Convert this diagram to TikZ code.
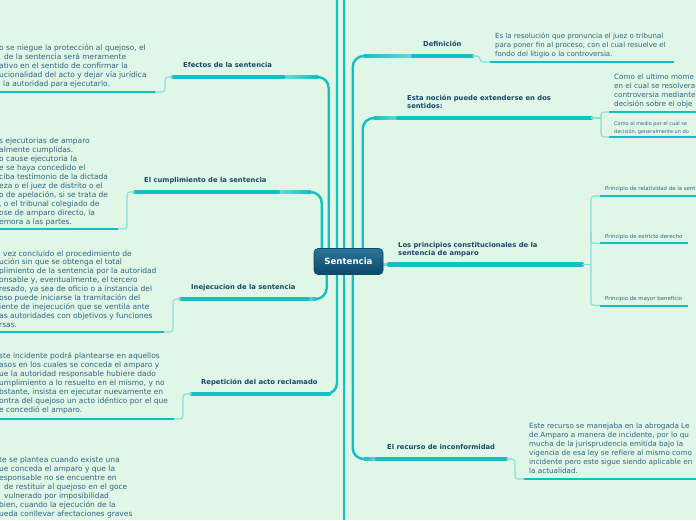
\documentclass[tikz,border=0pt]{standalone}
\usepackage{fontspec}
\setmainfont{DejaVu Sans}
\usetikzlibrary{backgrounds,calc}
\definecolor{bgc}{HTML}{E0F6E7}
\definecolor{cyanA}{HTML}{12BFC4}
\definecolor{cyanL}{HTML}{86DED9}
\definecolor{titlec}{HTML}{17496A}
\definecolor{bodyc}{HTML}{2F6582}
\definecolor{roottop}{HTML}{2C769C}
\definecolor{rootbot}{HTML}{0D4767}
\colorlet{fadeC}{cyanA!55!bgc}
\begin{document}
\begin{tikzpicture}[x=1pt,y=-1pt,
 conn/.style={draw=cyanA,line width=2.4pt,rounded corners=11pt},
 subconn/.style={draw=cyanL,line width=1.1pt,rounded corners=3pt},
 bar/.style={draw=cyanA,line width=4.4pt,line cap=round},
 uline/.style={draw=cyanA,line width=2pt},
 topic/.style={font=\bfseries\fontsize{6.8}{8.2}\selectfont,text=titlec,inner sep=0pt,anchor=base west,align=left},
 body/.style={font=\fontsize{7.5}{9.1}\selectfont,text=bodyc,inner sep=0pt,anchor=base west,align=left},
 rootbox/.style={rounded corners=4pt,top color=roottop,bottom color=rootbot,draw=rootbot,line width=0.6pt,text=white,font=\bfseries\fontsize{8.6}{10}\selectfont,minimum width=69pt,minimum height=26pt,inner sep=0pt}
]
\useasboundingbox (0,0) rectangle (696,520);
\begin{pgfonlayer}{background}
\fill[bgc] (0,0) rectangle (696,520);
\end{pgfonlayer}

% root
\node[rootbox] (root) at (348.5,261.5) {Sentencia};

% topic titles (base = baseline of last line)
\node[topic] (ef) at (183,67.5) {Efectos de la sentencia};
\node[topic] (cu) at (144,182.7) {El cumplimiento de la sentencia};
\node[topic] (in) at (191,289.7) {Inejecucion de la sentencia};
\node[topic] (re) at (201,384.7) {Repetición del acto reclamado};
\node[topic] (de) at (423,46.7) {Definición};
\node[topic] (es) at (407,108.7) {Esta noción puede extenderse en dos\\sentidos:};
\node[topic] (lp) at (398,255.7) {Los principios constitucionales de la\\sentencia de amparo};
\node[topic] (rc) at (387,449.5) {El recurso de inconformidad};

% bar end points
\coordinate (efL) at (173,77); \coordinate (efR) at (283,77);
\coordinate (cuL) at (135,192); \coordinate (cuR) at (278,192);
\coordinate (inL) at (181,299); \coordinate (inR) at (308,299);
\coordinate (reL) at (192,394); \coordinate (reR) at (329,394);
\coordinate (deL) at (413,56); \coordinate (deR) at (472,56);
\coordinate (esL) at (398,118); \coordinate (esR) at (591,118);
\coordinate (lpL) at (389,264.5); \coordinate (lpR) at (582,264.5);
\coordinate (rcL) at (377,459); \coordinate (rcR) at (506,459);

% body texts (base = baseline of last line)
\node[body,font=\fontsize{7.5}{9.2}\selectfont] (efT) at (-1,86.8) {o se niegue la protección al quejoso, el\\\hspace*{5pt}de la sentencia será meramente\\ativo en el sentido de confirmar la\\ucionalidad del acto y dejar vía jurídica\\\hspace*{4pt}la autoridad para ejecutarlo.};
\node[body,font=\fontsize{7.5}{8.96}\selectfont] (cuT) at (-1,224.3) {s ejecutorias de amparo\\almente cumplidas.\\o cause ejecutoria la\\e se haya concedido el\\ciba testimonio de la dictada\\eza o el juez de distrito o el\\o de apelación, si se trata de\\, o el tribunal colegiado de\\ose de amparo directo, la\\emora a las partes.};
\node[body,font=\fontsize{7.5}{8.9}\selectfont] (inT) at (-1,327.2) {\hspace*{4pt}vez concluido el procedimiento de\\ución sin que se obtenga el total\\plimiento de la sentencia por la autoridad\\onsable y, eventualmente, el tercero\\resado, ya sea de oficio o a instancia del\\oso puede iniciarse la tramitación del\\iente de inejecución que se ventila ante\\as autoridades con objetivos y funciones\\rsas.};
\node[body,font=\fontsize{7.5}{9}\selectfont] (reT) at (-1,412.7) {ste incidente podrá plantearse en aquellos\\asos en los cuales se conceda el amparo y\\ue la autoridad responsable hubiere dado\\umplimiento a lo resuelto en el mismo, y no\\bstante, insista en ejecutar nuevamente en\\ontra del quejoso un acto idéntico por el que\\e concedió el amparo.};
\node[body,font=\fontsize{7.5}{8.9}\selectfont] (boT) at (-1,516.1) {te se plantea cuando existe una\\ue conceda el amparo y que la\\esponsable no se encuentre en\\\hspace*{5pt}de restituir al quejoso en el goce\\\hspace*{5pt}vulnerado por imposibilidad\\bien, cuando la ejecución de la\\ueda conllevar afectaciones graves};
\node[body,font=\fontsize{7}{8.8}\selectfont] (deT) at (495,56.3) {Es la resolución que pronuncia el juez o tribunal\\para poner fin al proceso, con el cual resuelve el\\fondo del litigio o la controversia.};
\node[body,font=\fontsize{7.2}{9}\selectfont] (c1T) at (614,106.3) {Como el ultimo mome\\en el cual se resolvera\\controversia mediante\\decisión sobre el obje};
\node[body,font=\fontsize{5}{8.3}\selectfont] (c2T) at (614,133.3) {Como el medio por el cual se\\decisión, generalmente un do};
\node[body,font=\fontsize{5.4}{7}\selectfont] (p1T) at (605,190.7) {Principio de relatividad de la sent};
\node[body,font=\fontsize{5.4}{7}\selectfont] (p2T) at (605,238.4) {Principio de estricto derecho};
\node[body,font=\fontsize{5.4}{7}\selectfont] (p3T) at (605,300.7) {Principio de mayor beneficio};
\node[body,font=\fontsize{7.2}{9}\selectfont] (rcT) at (529,473) {Este recurso se manejaba en la abrogada Le\\de Amparo a manera de incidente, por lo qu\\mucha de la jurisprudencia emitida bajo la\\vigencia de esa ley se refiere al mismo como\\incidente pero este sigue siendo aplicable en\\la actualidad.};

% underline start/end points
\coordinate (efU) at (155,92); \coordinate (efU2) at (0,92);
\coordinate (cuU) at (118,229); \coordinate (cuU2) at (0,229);
\coordinate (inU) at (164,332); \coordinate (inU2) at (0,332);
\coordinate (reU) at (174,419); \coordinate (reU2) at (0,419);
\coordinate (deU) at (490,62); \coordinate (deU2) at (674,62);
\coordinate (c1U) at (609,112); \coordinate (c1U2) at (696,112);
\coordinate (c2U) at (609,137); \coordinate (c2U2) at (696,137);
\coordinate (p1U) at (600,196); \coordinate (p1U2) at (696,196);
\coordinate (p2U) at (600,243.3); \coordinate (p2U2) at (688,243.3);
\coordinate (p3U) at (600,305.5); \coordinate (p3U2) at (688,305.5);
\coordinate (rcU) at (524,479); \coordinate (rcU2) at (696,479);
\coordinate (topA) at (337,0); \coordinate (topB) at (344,0); \coordinate (botB) at (344,520);

\begin{pgfonlayer}{background}
% long verticals
\draw[conn] (topB) -- (botB);
\draw[conn] (reR) -| (topA);
% main connectors
\draw[conn] (efR) -| ($(root.north west)+(15,0)$);
\draw[conn] (cuR) -| ($(root.north west)+(8,0)$);
\draw[conn] (inR) -| ($(root.south west)+(13,0)$);
\draw[conn] (deL) -| ($(root.north west)+(39,0)$);
\draw[conn] (esL) -| ($(root.north west)+(49,0)$);
\draw[conn] (rcL) -| ($(root.south west)+(39,0)$);
\draw[conn,draw=fadeC] (root.east |- lpL) -- (lpL);
% lighter fade of the connectors next to the topic bars
\shade[left color=fadeC,right color=cyanA] ($(efR)+(0,-1.2)$) rectangle ($(efR)+(35,1.2)$);
\shade[left color=fadeC,right color=cyanA] ($(cuR)+(0,-1.2)$) rectangle ($(cuR)+(33,1.2)$);
\shade[left color=fadeC,right color=cyanA] ($(inR)+(0,-1.2)$) rectangle ($(inR)+(8,1.2)$);
\shade[left color=cyanA,right color=fadeC] ($(deL)+(-49,-1.2)$) rectangle ($(deL)+(0,1.2)$);
\shade[left color=cyanA,right color=fadeC] ($(esL)+(-24,-1.2)$) rectangle ($(esL)+(0,1.2)$);
\shade[left color=cyanA,right color=fadeC] ($(rcL)+(-13,-1.2)$) rectangle ($(rcL)+(0,1.2)$);
% bars
\foreach \a/\b in {efL/efR,cuL/cuR,inL/inR,reL/reR,deL/deR,esL/esR,lpL/lpR,rcL/rcR}
  \draw[bar] (\a) -- (\b);
% underlines
\foreach \a/\b in {efU/efU2,cuU/cuU2,inU/inU2,reU/reU2,deU/deU2,c1U/c1U2,c2U/c2U2,p1U/p1U2,p2U/p2U2,p3U/p3U2,rcU/rcU2}
  \draw[uline] (\a) -- (\b);
% sub connectors
\draw[subconn] (efL) -- (165,77) -- (165,92) -- (efU);
\draw[subconn] (cuL) -- (127,192) -- (127,229) -- (cuU);
\draw[subconn] (inL) -- (173,299) -- (173,332) -- (inU);
\draw[subconn] (reL) -- (183,394) -- (183,419) -- (reU);
\draw[subconn] (deR) -- (480,56) -- (480,62) -- (deU);
\draw[subconn] (esR) -- (601,118);
\draw[subconn] (c1U) -- (601,112) -- (601,137) -- (c2U);
\draw[subconn] (lpR) -- (591,264.5);
\draw[subconn] (p1U) -- (591,196) -- (591,305.5) -- (p3U);
\draw[subconn] (591,232) -- (591,243.3) -- (p2U);
\draw[subconn] (rcR) -- (515,459) -- (515,479) -- (rcU);
\end{pgfonlayer}
\end{tikzpicture}
\end{document}
